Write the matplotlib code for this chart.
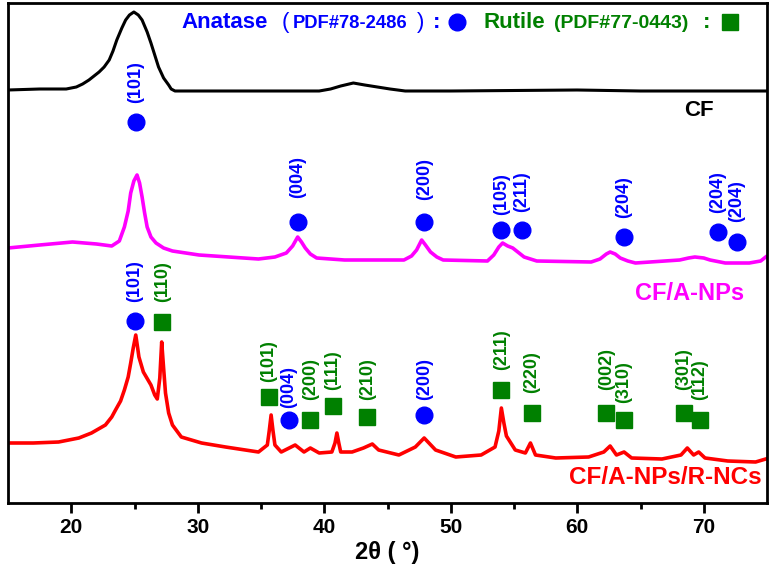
import matplotlib
matplotlib.use("Agg")
import matplotlib.pyplot as plt

plt.rcParams["font.family"] = ["Liberation Sans", "DejaVu Sans"]
plt.rcParams["font.weight"] = "bold"

# curves (2theta, stacked intensity in arbitrary units)
cf_x = [15.0, 17.5, 19.6, 20.4, 20.9, 21.4, 21.8, 22.2, 22.6, 23.0, 23.3, 23.6,
        24.0, 24.3, 24.6, 24.95, 25.3, 25.6, 26.0, 26.3, 26.6, 26.9, 27.3, 27.7,
        27.9, 28.2, 30.0, 35.0, 39.6, 40.5, 41.3, 42.3, 43.2, 44.2, 45.2, 46.4,
        50.0, 60.0, 65.0, 70.0, 75.0]
cf_y = [413, 414, 414, 416, 419, 423, 427, 431, 436, 443, 452, 463,
        475, 483, 488, 491, 488, 483, 471, 460, 448, 436, 425, 418,
        414, 412, 412, 412, 412, 414, 417, 420, 418, 416, 414, 412,
        412, 413, 412, 412, 412]

anp_x = [15.0, 17.5, 20.1, 22.0, 23.2, 23.8, 24.2, 24.5, 24.7, 24.95, 25.2, 25.4,
         25.6, 25.8, 26.0, 26.3, 26.7, 27.3, 28.0, 30.1, 34.8, 36.1, 37.0, 37.5,
         37.9, 38.2, 38.5, 38.9, 39.4, 41.6, 46.3, 46.9, 47.3, 47.7, 48.0, 48.4,
         48.9, 49.4, 52.9, 53.4, 53.8, 54.1, 54.5, 54.9, 55.3, 55.8, 56.8, 61.1,
         61.8, 62.3, 62.6, 63.0, 63.4, 64.0, 64.6, 68.1, 68.8, 69.3, 70.0, 70.5,
         71.7, 73.6, 74.5, 74.9]
anp_y = [255, 258, 261, 259, 257, 262, 276, 292, 310, 322, 328, 320,
         306, 290, 276, 266, 260, 255, 252, 248, 244, 246, 250, 257,
         266, 261, 255, 249, 245, 243, 243, 247, 253, 263, 258, 251,
         246, 243, 242, 248, 256, 260, 257, 255, 251, 246, 242, 241,
         244, 249, 251, 249, 245, 242, 240, 243, 245, 246, 245, 243,
         240, 240, 242, 246]

rnc_x = [15.0, 17.0, 19.0, 20.6, 21.6, 22.7, 23.2, 23.5, 23.9, 24.2, 24.5, 24.7,
         24.9, 25.1, 25.25, 25.35, 25.7, 26.3, 26.6, 26.8, 27.0, 27.15, 27.3, 27.45,
         27.7, 28.0, 28.7, 30.3, 32.2, 34.8, 35.5, 35.65, 35.8, 35.95, 36.1, 36.6,
         37.7, 38.4, 38.9, 39.6, 40.6, 40.85, 41.0, 41.15, 41.3, 42.2, 43.1, 43.8,
         44.3, 45.9, 47.2, 47.9, 48.8, 50.4, 52.4, 53.5, 53.8, 54.0, 54.2, 54.4,
         55.1, 55.9, 56.3, 56.7, 58.3, 60.9, 62.1, 62.6, 63.1, 63.7, 64.3, 66.7,
         68.2, 68.7, 69.2, 69.6, 70.1, 71.9, 74.1, 74.9]
rnc_y = [60, 60, 61, 65, 70, 78, 86, 93, 102, 113, 126, 140,
         155, 168, 155, 146, 131, 118, 108, 104, 125, 161, 135, 110,
         90, 78, 66, 60, 56, 51, 58, 72, 88, 72, 58, 51,
         58, 51, 55, 50, 51, 60, 70, 60, 51, 51, 55, 59,
         53, 48, 56, 65, 53, 46, 48, 56, 72, 95, 80, 67,
         53, 50, 60, 48, 45, 46, 51, 57, 48, 51, 45, 44,
         48, 55, 48, 51, 45, 42, 41, 44]

# peak markers: (2theta, marker height, label, label bottom, phase)
cf_peaks = [(25.1, 381, "(101)", 400, "A")]
anp_peaks = [
    (37.9, 281, "(004)", 305, "A"),
    (47.9, 281, "(200)", 303, "A"),
    (54.0, 273, "(105)", 288, "A"),
    (55.6, 273, "(211)", 291, "A"),
    (63.7, 266, "(204)", 285, "A"),
    (71.1, 271, "(204)", 290, "A"),
    (72.6, 261, "(204)", 281, "A"),
]
rnc_peaks = [
    (25.0, 182, "(101)", 201, "A"),
    (27.2, 181, "(110)", 201, "R"),
    (35.6, 106, "(101)", 121, "R"),
    (37.2, 83, "(004)", 95, "A"),
    (38.9, 83, "(200)", 103, "R"),
    (40.7, 97, "(111)", 113, "R"),
    (43.4, 86, "(210)", 103, "R"),
    (47.9, 88, "(200)", 103, "A"),
    (54.0, 113, "(211)", 133, "R"),
    (56.4, 90, "(220)", 110, "R"),
    (62.3, 90, "(002)", 113, "R"),
    (63.7, 83, "(310)", 100, "R"),
    (68.4, 90, "(301)", 113, "R"),
    (69.7, 83, "(112)", 103, "R"),
]

BLUE = "#0000FF"
GREEN = "#008000"
PHASE = {"A": ("o", BLUE, 12), "R": ("s", GREEN, 11)}

fig = plt.figure(figsize=(7.74, 5.74), dpi=100)
ax = fig.add_axes([8 / 774, 71 / 574, 759 / 774, 500 / 574])

ax.plot(cf_x, cf_y, color="black", lw=2.2)
ax.plot(anp_x, anp_y, color="#FF00FF", lw=2.6)
ax.plot(rnc_x, rnc_y, color="#FF0000", lw=2.6)

for peaks in (cf_peaks, anp_peaks, rnc_peaks):
    for tt, h, lab, ty, ph in peaks:
        mk, col, ms = PHASE[ph]
        ax.plot([tt], [h], marker=mk, ms=ms, color=col, ls="none")
        ax.text(tt, ty, lab, rotation=90, ha="center", va="bottom",
                color=col, fontsize=13, fontweight="bold")

# sample names
ax.text(70.8, 393, "CF", ha="right", va="center", fontsize=16, color="black")
ax.text(73.2, 210, "CF/A-NPs", ha="right", va="center", fontsize=17, color="#FF00FF")
ax.text(74.6, 25, "CF/A-NPs/R-NCs", ha="right", va="center", fontsize=17.5, color="#FF0000")

# phase key at the top
base = 475
ax.text(28.75, base, "Anatase", va="baseline", fontsize=16, color=BLUE)
ax.text(36.6, base, "(", va="baseline", fontsize=16, color=BLUE, fontweight="normal")
ax.text(37.5, base, "PDF#78-2486", va="baseline", fontsize=13.2, color=BLUE)
ax.text(47.3, base, ")", va="baseline", fontsize=16, color=BLUE, fontweight="normal")
ax.text(48.6, base, ":", va="baseline", fontsize=16, color=BLUE)
ax.plot([50.5], [481], marker="o", ms=12, color=BLUE, ls="none")
ax.text(52.6, base, "Rutile", va="baseline", fontsize=16, color=GREEN)
ax.text(58.2, base, "(PDF#77-0443)", va="baseline", fontsize=14, color=GREEN)
ax.text(69.9, base, ":", va="baseline", fontsize=16, color=GREEN)
ax.plot([72.1], [481], marker="s", ms=11, color=GREEN, ls="none")

ax.set_xlim(15, 75)
ax.set_ylim(0, 500)
ax.set_yticks([])
ax.set_xticks([20, 30, 40, 50, 60, 70])
ax.set_xticks([25, 35, 45, 55, 65], minor=True)
ax.tick_params(axis="x", which="major", direction="out", length=7, width=2, labelsize=15, pad=4)
ax.tick_params(axis="x", which="minor", direction="out", length=4, width=2)
for lab in ax.get_xticklabels():
    lab.set_fontweight("bold")
for sp in ax.spines.values():
    sp.set_linewidth(2)
ax.set_xlabel("2θ ( °)", fontsize=17, fontweight="bold", labelpad=3)

fig.savefig("out.png", dpi=100)
